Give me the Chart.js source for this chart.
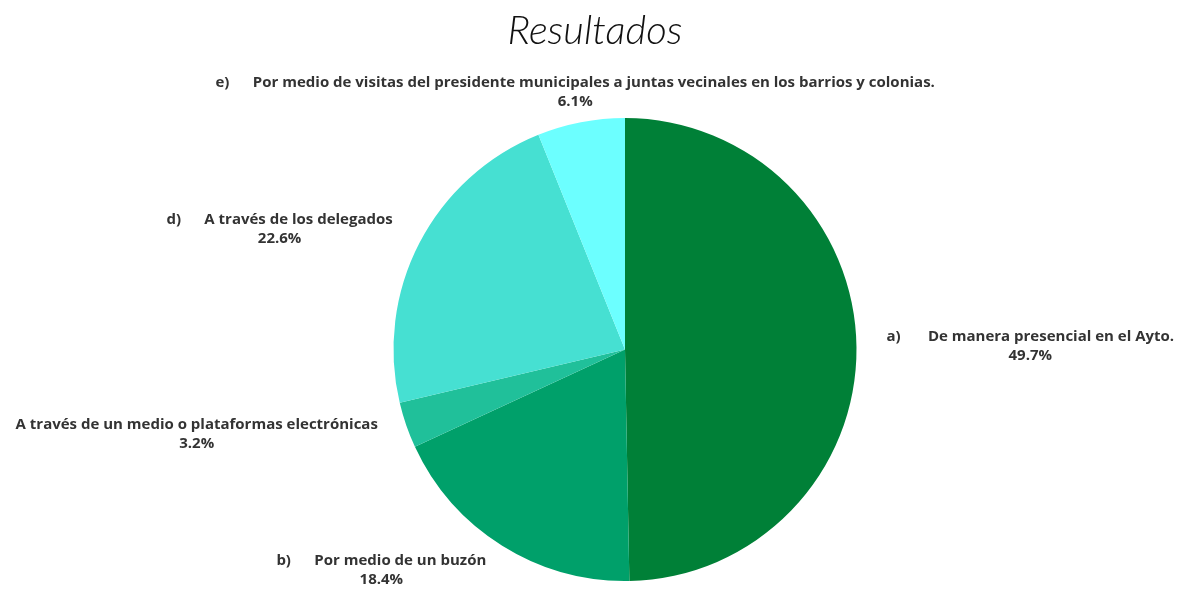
<!DOCTYPE html>
<html>
<head>
<meta charset="utf-8">
<script src="https://cdn.jsdelivr.net/npm/chart.js@4"></script>
<style>
  html, body { margin: 0; padding: 0; background: #fff; }
  #wrap { width: 1184px; height: 590px; position: relative; }
</style>
</head>
<body>
<div id="wrap"><canvas id="pieChart"></canvas></div>
<script>
// datos del gráfico
const chartTitle = 'Resultados';
const categories = [
    'a)       De manera presencial en el Ayto.',
    'b)      Por medio de un buzón',
    'A través de un medio o plataformas electrónicas',
    'd)      A través de los delegados',
    'e)      Por medio de visitas del presidente municipales a juntas vecinales en los barrios y colonias.'
];
const percentValues = [49.7, 18.4, 3.2, 22.6, 6.1];
const sliceColors = ['#008037', '#00A06A', '#20C09A', '#46E0D2', '#6CFFFF'];

// título centrado en el lienzo completo
const pageTitle = {
    id: 'pageTitle',
    afterDraw(chart) {
        const ctx = chart.ctx;
        ctx.save();
        ctx.fillStyle = '#111';
        ctx.font = 'italic 300 40px Lato';
        ctx.textAlign = 'center';
        ctx.textBaseline = 'middle';
        ctx.fillText(chartTitle, 595, 31);
        ctx.restore();
    }
};

// etiquetas fuera del pastel
const outsideLabels = {
    id: 'outsideLabels',
    afterDatasetsDraw(chart) {
        const ctx = chart.ctx;
        const meta = chart.getDatasetMeta(0);
        ctx.save();
        ctx.fillStyle = '#333';
        ctx.font = 'bold 15px "Open Sans"';
        ctx.textBaseline = 'middle';
        meta.data.forEach(function(arc, i) {
            const p = arc.getProps(['x', 'y', 'startAngle', 'endAngle', 'outerRadius'], true);
            const mid = (p.startAngle + p.endAngle) / 2;
            const r = p.outerRadius + 30;
            const ax = p.x + Math.cos(mid) * r;
            const ay = p.y + Math.sin(mid) * r;
            const line1 = chart.data.labels[i];
            const line2 = percentValues[i].toFixed(1) + '%';
            let w = ctx.measureText(line1).width;
            const maxW = 760;
            if (w > maxW) w = maxW;
            let left;
            const c = Math.cos(mid);
            if (c > 0.3) left = ax;
            else if (c < -0.3) left = ax - w;
            else left = ax - w / 2;
            ctx.textAlign = 'left';
            ctx.fillText(line1, left, ay - 10, maxW);
            ctx.textAlign = 'center';
            ctx.fillText(line2, left + w / 2, ay + 9);
        });
        ctx.restore();
    }
};

const ctxPie = document.getElementById('pieChart').getContext('2d');
new Chart(ctxPie, {
    type: 'pie',
    data: {
        labels: categories,
        datasets: [{
            data: percentValues,
            backgroundColor: sliceColors,
            borderWidth: 0
        }]
    },
    options: {
        responsive: true,
        maintainAspectRatio: false,
        animation: false,
        layout: { padding: { top: 118, bottom: 9, left: 66, right: 0 } },
        plugins: {
            legend: { display: false },
            tooltip: { enabled: false },
            title: { display: false }
        }
    },
    plugins: [outsideLabels, pageTitle]
});
</script>
</body>
</html>
